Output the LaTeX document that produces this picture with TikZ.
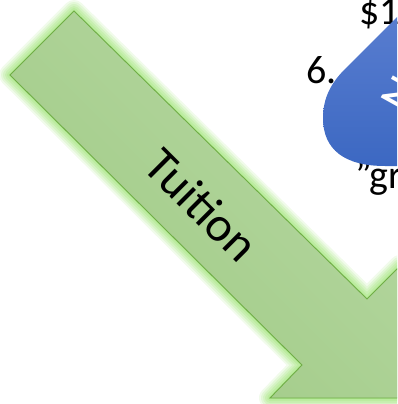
\documentclass[tikz,border=0pt]{standalone}
\usepackage{fontspec}
\setmainfont{Carlito}
\definecolor{arrowline}{RGB}{112,173,71}
\definecolor{arrowtop}{RGB}{182,216,162}
\definecolor{arrowbot}{RGB}{160,202,133}
\definecolor{glowc}{RGB}{140,222,92}
\definecolor{blobtop}{RGB}{98,132,212}
\definecolor{blobbot}{RGB}{60,104,194}
\tikzset{
  bigtext/.style={inner sep=0pt, font=\fontsize{49}{52}\selectfont},
  sidetext/.style={inner sep=0pt, anchor=base west, text=black, font=\fontsize{40}{44}\selectfont},
  blobtextstyle/.style={inner sep=0pt, text=white, font=\fontsize{50}{50}\selectfont}
}
\def\arrowpath{(74,11) -- (367,299) -- (400,266) -- (400,398) -- (270,398) -- (302,365) -- (10,75) -- cycle}
\begin{document}
\begin{tikzpicture}[x=1pt,y=-1pt]
\useasboundingbox (0,0) rectangle (397,404);
\clip (0,0) rectangle (397,404);
% glow
\foreach \w/\o in {22/0.12,18/0.14,14/0.16,10/0.18,6/0.2,2/0.25}{
  \draw[glowc, line width=\w pt, opacity=\o, line join=round] \arrowpath;
}
% arrow body
\shade[top color=arrowtop, bottom color=arrowbot, shading angle=-45] \arrowpath;
\draw[arrowline, line width=0.9pt, line join=miter] \arrowpath;
\node[bigtext, rotate=-45] (tuition) at (202,205) {Tuition};
% text behind the blob
\node[sidetext] (dollar) at (359.5,25) {\$1};
\node[sidetext] (six) at (306,83) {6.};
\node[sidetext] (gq) at (355,188) {\symbol{34}gr};
% blob
\shade[top color=blobtop, bottom color=blobbot]
  (450,-36) -- (345,69) .. controls (331,83) and (323,98) .. (323,118)
  .. controls (323,150) and (345,166) .. (385,166) -- (450,166) -- cycle;
\node[blobtextstyle, rotate=61, anchor=north west] (blobtext) at (379,101) {N};
\end{tikzpicture}
\end{document}
